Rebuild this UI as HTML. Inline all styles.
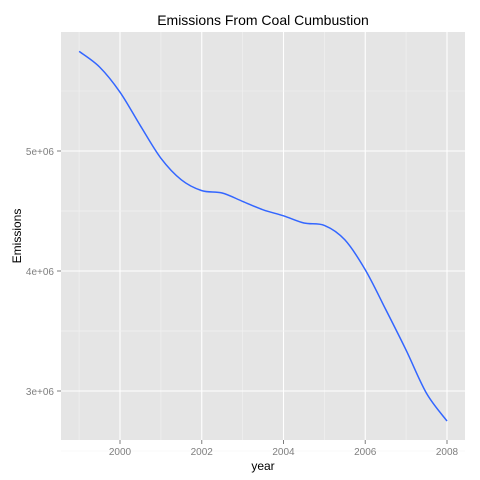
<!DOCTYPE html>
<html><head><meta charset="utf-8"><style>body{margin:0;background:#fff}svg{display:block;font-family:"Liberation Sans",sans-serif}</style></head>
<body>
<svg id="c" width="480" height="480">
<rect x="61" y="32" width="404" height="408" fill="#e5e5e5"/>
<g id="grid"></g><g id="axes"></g>
<path id="line" fill="none" stroke="#3366ff" stroke-width="1.5"/>
<text x="263" y="25" text-anchor="middle" font-size="14">Emissions From Coal Cumbustion</text>
<text x="263" y="470" text-anchor="middle" font-size="12">year</text>
<text transform="translate(21,236) rotate(-90)" text-anchor="middle" font-size="12">Emissions</text>
</svg>
<script>
const years=[1999,1999.5,2000,2000.5,2001,2001.5,2002,2002.5,2003,2003.5,2004,2004.5,2005,2005.5,2006,2006.5,2007,2007.5,2008];
const emissions=[5.83e6,5.70e6,5.49e6,5.21e6,4.94e6,4.76e6,4.67e6,4.65e6,4.58e6,4.51e6,4.46e6,4.40e6,4.38e6,4.26e6,4.01e6,3.68e6,3.34e6,2.98e6,2.75e6];
const xTicks=[2000,2002,2004,2006,2008];
const yTicks=[3e6,4e6,5e6];
const yTickLabels=["3e+06","4e+06","5e+06"];
const X=v=>120+(v-2000)*40.875;
const Y=v=>391-(v-3e6)*120/1e6;
const ns="http://www.w3.org/2000/svg";
function mk(t,a,p){const e=document.createElementNS(ns,t);for(const k in a)e.setAttribute(k,a[k]);p.appendChild(e);return e;}
const g=document.getElementById('grid'),ax=document.getElementById('axes');
for(let i=0;i<xTicks.length;i++){const v=xTicks[i];
 const m=mk('line',{x1:X(v-1),x2:X(v-1),y1:32,y2:440,stroke:'#f2f2f2','stroke-width':0.6},g);
 
 const l=mk('line',{x1:X(v),x2:X(v),y1:32,y2:440,stroke:'#fff','stroke-width':1.1},g);
 
 const t=mk('line',{x1:X(v),x2:X(v),y1:440,y2:444,stroke:'#7f7f7f'},ax);
 
 const tx=mk('text',{x:X(v),y:455,'text-anchor':'middle','font-size':10,fill:'#7f7f7f'},ax);tx.textContent=v;
 }
for(let i=0;i<yTicks.length;i++){const v=yTicks[i];
 [v-5e5,v+5e5].forEach(u=>{const m=mk('line',{x1:61,x2:465,y1:Y(u),y2:Y(u),stroke:'#f2f2f2','stroke-width':0.6},g);
 });
 const l=mk('line',{x1:61,x2:465,y1:Y(v),y2:Y(v),stroke:'#fff','stroke-width':1.1},g);
 
 const t=mk('line',{x1:57,x2:61,y1:Y(v),y2:Y(v),stroke:'#7f7f7f'},ax);
 
 const tx=mk('text',{x:54,y:Y(v)+4,'text-anchor':'end','font-size':10,fill:'#7f7f7f'},ax);tx.textContent=yTickLabels[i];
 }
const P=years.map((y,i)=>[X(y),Y(emissions[i])]);
let d='M'+P[0][0]+','+P[0][1];
for(let i=0;i<P.length-1;i++){const p0=P[Math.max(0,i-1)],p1=P[i],p2=P[i+1],p3=P[Math.min(P.length-1,i+2)];
 d+=' C'+(p1[0]+(p2[0]-p0[0])/6)+','+(p1[1]+(p2[1]-p0[1])/6)+' '+(p2[0]-(p3[0]-p1[0])/6)+','+(p2[1]-(p3[1]-p1[1])/6)+' '+p2[0]+','+p2[1];}
document.getElementById('line').setAttribute('d',d);
</script>
</body></html>
